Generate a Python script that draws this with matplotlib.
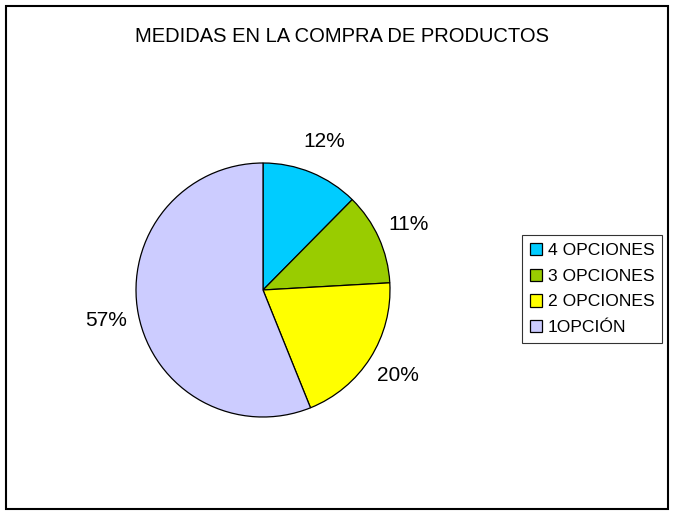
import matplotlib
matplotlib.use('Agg')
import matplotlib.pyplot as plt
from matplotlib.patches import Rectangle

plt.rcParams['font.family'] = ['Liberation Sans', 'DejaVu Sans']

labels = ['4 OPCIONES', '3 OPCIONES', '2 OPCIONES', '1OPCIÓN']
# slice sizes as measured from the wedge angles in the picture
values = [12.4, 11.7, 19.8, 56.1]
pct_labels = ['12%', '11%', '20%', '57%']
colors = ['#00CCFF', '#99CC00', '#FFFF00', '#CCCCFF']
title = 'MEDIDAS EN LA COMPRA DE PRODUCTOS'

fig = plt.figure(figsize=(6.74, 5.15), dpi=100)

# outer chart border
fig.patches.append(Rectangle((6 / 674, 6 / 515), 662 / 674, 503 / 515,
                             transform=fig.transFigure, fill=False,
                             edgecolor='black', linewidth=1.5))

ax = fig.add_axes([136 / 674, 98 / 515, 254 / 674, 254 / 515])
wedges, texts = ax.pie(
    values, labels=pct_labels, colors=colors, startangle=90, counterclock=False,
    labeldistance=1.26,
    wedgeprops={'edgecolor': 'black', 'linewidth': 0.9},
    textprops={'fontsize': 15})
for t in texts:
    t.set_horizontalalignment('center')
    t.set_verticalalignment('center')
ax.set_xlim(-1, 1)
ax.set_ylim(-1, 1)
ax.set_aspect('equal')

fig.text(342 / 674, 1 - 37 / 515, title, ha='center', va='center', fontsize=14.5)

leg = fig.legend(wedges, labels, loc='center', bbox_to_anchor=(592 / 674, 1 - 289 / 515),
                 fontsize=12.6, frameon=True, fancybox=False, edgecolor='black',
                 handlelength=0.7, handleheight=0.7, handletextpad=0.35,
                 labelspacing=0.6, borderpad=0.45, borderaxespad=0)
leg.get_frame().set_linewidth(0.8)

fig.savefig('out.png', dpi=100)
